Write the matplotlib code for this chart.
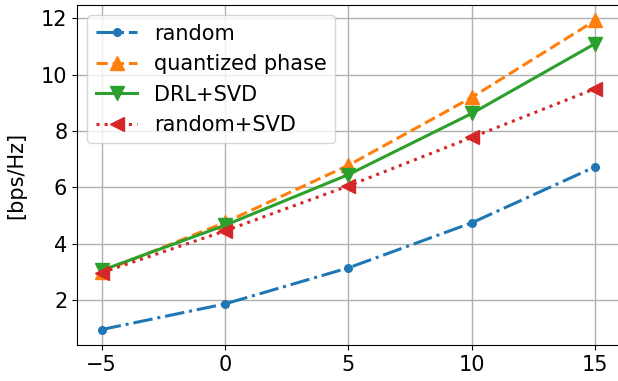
import matplotlib
matplotlib.use("Agg")
import matplotlib.pyplot as plt

# SNR points and achievable rate per scheme
snr = [-5, 0, 5, 10, 15]
rate_random = [0.95, 1.86, 3.14, 4.74, 6.73]
rate_quantized = [3.0, 4.75, 6.78, 9.19, 11.92]
rate_drl_svd = [3.05, 4.65, 6.45, 8.62, 11.1]
rate_random_svd = [2.97, 4.45, 6.05, 7.77, 9.5]

plt.rcParams['font.size'] = 15

fig = plt.figure(figsize=(6.18, 3.81), dpi=100)
ax = fig.add_axes([0.1246, 0.0945, 0.8786, 0.8925])

ax.plot(snr, rate_random, '.-.', color='tab:blue', lw=2.2, ms=11, label='random')
ax.plot(snr, rate_quantized, '^--', color='tab:orange', lw=2.2, ms=10, label='quantized phase')
ax.plot(snr, rate_drl_svd, 'v-', color='tab:green', lw=2.2, ms=10, label='DRL+SVD')
ax.plot(snr, rate_random_svd, '<:', color='tab:red', lw=2.2, ms=10, label='random+SVD')

ax.set_xticks([-5, 0, 5, 10, 15])
ax.set_yticks([2, 4, 6, 8, 10, 12])
ax.set_ylabel('[bps/Hz]')
ax.yaxis.set_label_coords(-0.093, 0.5)
ax.grid(True, lw=1)
ax.legend(loc='upper left')

fig.savefig('out.png', dpi=100)
